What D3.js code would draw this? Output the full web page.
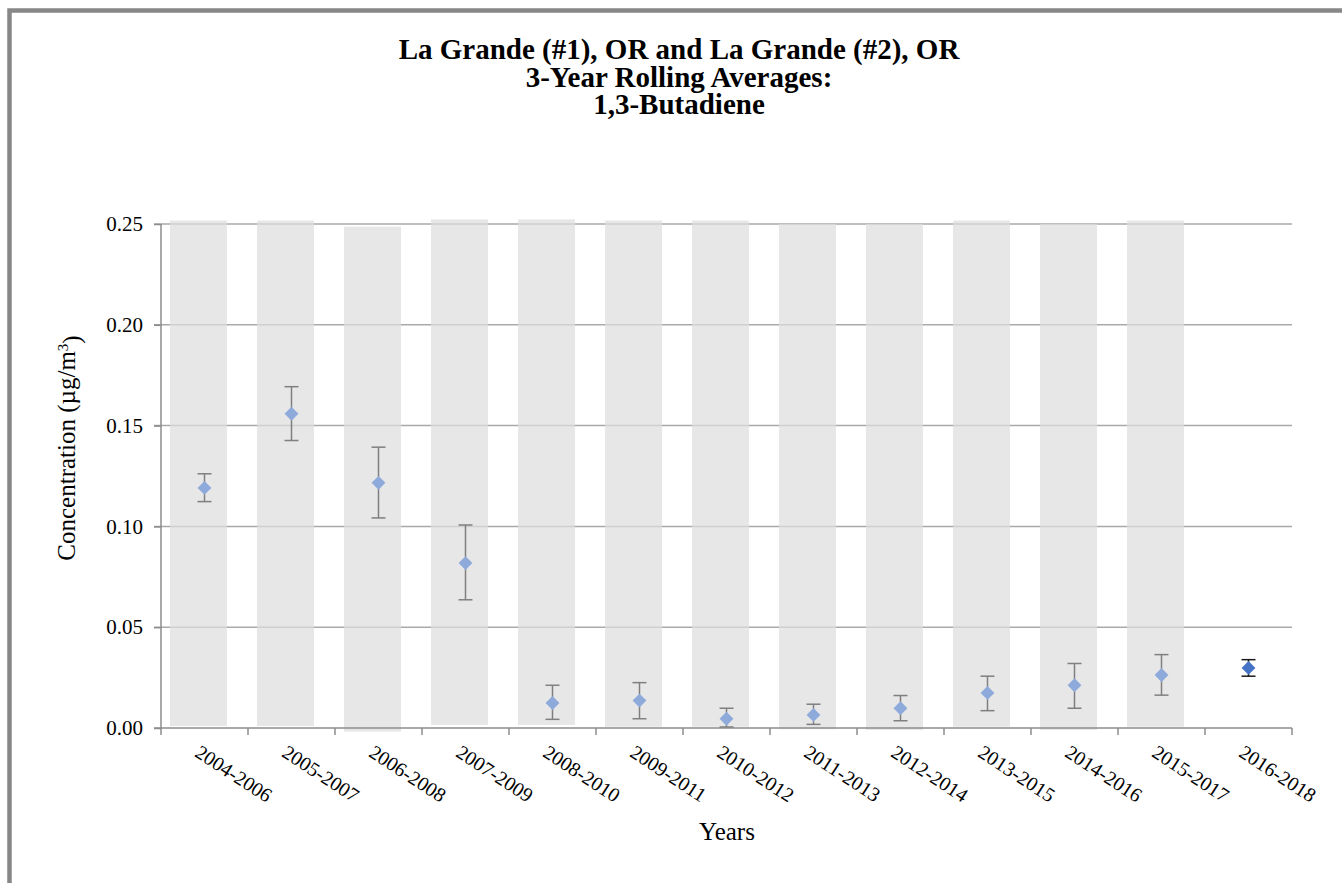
<!DOCTYPE html>
<html>
<head>
<meta charset="utf-8">
<script src="https://cdn.jsdelivr.net/npm/d3@7"></script>
<style>
  html, body { margin: 0; padding: 0; background: #fff; }
  svg { display: block; }
</style>
</head>
<body>
<svg id="chart" width="1342" height="883"></svg>
<script>
// Rolling three-year periods
const periods = ["2004-2006", "2005-2007", "2006-2008", "2007-2009", "2008-2010", "2009-2011",
  "2010-2012", "2011-2013", "2012-2014", "2013-2015", "2014-2016", "2015-2017", "2016-2018"];

// 3-year rolling average concentration (µg/m³) with confidence interval bounds
const means = [0.1191, 0.1559, 0.1216, 0.0818, 0.0124, 0.0136, 0.0046, 0.0065, 0.0098, 0.0174, 0.0212, 0.0263, 0.0298];
const upper = [0.1261, 0.1693, 0.1393, 0.1007, 0.0212, 0.0225, 0.0098, 0.0118, 0.0161, 0.0257, 0.0320, 0.0364, 0.0339];
const lower = [0.1123, 0.1426, 0.1042, 0.0636, 0.0043, 0.0046, 0.0005, 0.0018, 0.0036, 0.0086, 0.0098, 0.0163, 0.0257];

// Periods drawn with the lighter marker (combined-site averages); last period from a single site
const combined = [true, true, true, true, true, true, true, true, true, true, true, true, false];

// Shaded background columns (data units, top and bottom) for the combined periods
const shadeTop    = [0.2517, 0.2517, 0.2487, 0.2523, 0.2523, 0.2517, 0.2517, 0.2500, 0.2500, 0.2517, 0.2500, 0.2517];
const shadeBottom = [0.0010, 0.0010, -0.0018, 0.0015, 0.0015, 0.0006, 0.0006, -0.0006, -0.0010, 0.0006, -0.0010, 0.0006];

const yTicks = [0, 0.05, 0.10, 0.15, 0.20, 0.25];

const titleLines = ["La Grande (#1), OR and La Grande (#2), OR", "3-Year Rolling Averages:", "1,3-Butadiene"];

const SERIF = "'Liberation Serif', 'Times New Roman', Times, serif";

const svg = d3.select("#chart");

// outer frame
svg.append("rect")
  .attr("x", 9.5).attr("y", 10.5)
  .attr("width", 1360).attr("height", 900)
  .attr("fill", "none").attr("stroke", "#878787").attr("stroke-width", 4.5);

const plot = { left: 161, right: 1292, top: 224, bottom: 728 };

const x = d3.scaleBand().domain(periods).range([plot.left, plot.right]).padding(0);
const y = d3.scaleLinear().domain([0, 0.25]).range([plot.bottom, plot.top]);

// gridlines
svg.append("g").selectAll("line").data(yTicks.filter(t => t > 0)).join("line")
  .attr("x1", plot.left - 7).attr("x2", plot.right)
  .attr("y1", d => y(d)).attr("y2", d => y(d))
  .attr("stroke", "#a9a9a9").attr("stroke-width", 1.5);

// shaded columns
const shadeW = x.bandwidth() * 0.655;
svg.append("g").selectAll("rect").data(shadeTop).join("rect")
  .attr("x", (d, i) => x(periods[i]) + x.bandwidth() / 2 - shadeW / 2 - 6)
  .attr("y", (d, i) => y(d))
  .attr("width", shadeW)
  .attr("height", (d, i) => y(shadeBottom[i]) - y(d))
  .attr("fill", "#dedede").attr("fill-opacity", 0.72);

// y axis
const yAxis = svg.append("g").attr("transform", `translate(${plot.left},0)`)
  .call(d3.axisLeft(y).tickValues(yTicks).tickFormat(d3.format(".2f")).tickSize(7).tickPadding(11));
yAxis.select(".domain").attr("stroke", "#8c8c8c").attr("stroke-width", 1.5)
  .attr("d", `M0,${plot.top}V${plot.bottom}`);
yAxis.selectAll(".tick line").attr("stroke", "#8c8c8c").attr("stroke-width", 1.5);
yAxis.selectAll(".tick text")
  .style("font-family", SERIF)
  .style("font-size", "21px").attr("fill", "#000");

// x axis line with ticks at category boundaries
const xg = svg.append("g");
xg.append("line")
  .attr("x1", plot.left - 7).attr("x2", plot.right)
  .attr("y1", plot.bottom).attr("y2", plot.bottom)
  .attr("stroke", "#8c8c8c").attr("stroke-width", 1.5);
const bounds = periods.map(p => x(p)).concat([x(periods[periods.length - 1]) + x.bandwidth()]);
xg.selectAll("line.tk").data(bounds).join("line").attr("class", "tk")
  .attr("x1", d => d).attr("x2", d => d)
  .attr("y1", plot.bottom).attr("y2", plot.bottom + 7)
  .attr("stroke", "#8c8c8c").attr("stroke-width", 1.5);

// rotated category labels
xg.selectAll("text").data(periods).join("text")
  .attr("transform", d => `translate(${x(d) + x.bandwidth() / 2 - 7},${plot.bottom + 22}) rotate(33)`)
  .attr("text-anchor", "start")
  .attr("dy", "0.35em")
  .style("font-family", SERIF)
  .style("font-size", "20px")
  .text(d => d);

// error bars
const eb = svg.append("g");
const capHalf = 7;
periods.forEach((p, i) => {
  const cx = x(p) + x.bandwidth() / 2;
  const col = combined[i] ? "#7f7f7f" : "#1a1a1a";
  const g = eb.append("g").attr("stroke", col).attr("stroke-width", 1.5);
  g.append("line").attr("x1", cx).attr("x2", cx).attr("y1", y(upper[i])).attr("y2", y(lower[i]));
  g.append("line").attr("x1", cx - capHalf).attr("x2", cx + capHalf).attr("y1", y(upper[i])).attr("y2", y(upper[i]));
  g.append("line").attr("x1", cx - capHalf).attr("x2", cx + capHalf).attr("y1", y(lower[i])).attr("y2", y(lower[i]));
});

// diamond markers
const diamond = d3.symbol(d3.symbolSquare, 96);
svg.append("g").selectAll("path").data(means).join("path")
  .attr("d", diamond)
  .attr("transform", (d, i) => `translate(${x(periods[i]) + x.bandwidth() / 2},${y(d)}) rotate(45)`)
  .attr("fill", (d, i) => combined[i] ? "#8eaadb" : "#4472c4");

// titles
svg.append("g").selectAll("text").data(titleLines).join("text")
  .attr("x", 679)
  .attr("y", (d, i) => 59 + i * 27.5)
  .attr("text-anchor", "middle")
  .style("font-family", SERIF)
  .style("font-size", "29px").style("font-weight", "bold")
  .attr("fill", "#000")
  .text(d => d);

// axis titles
const yt = svg.append("text")
  .attr("transform", "translate(75,448) rotate(-90)")
  .attr("text-anchor", "middle")
  .style("font-family", SERIF)
  .style("font-size", "25px");
yt.append("tspan").text("Concentration (µg/m");
yt.append("tspan").attr("dy", "-0.45em").style("font-size", "15px").text("3");
yt.append("tspan").attr("dy", "0.45em").text(")");

svg.append("text")
  .attr("x", 727).attr("y", 840)
  .attr("text-anchor", "middle")
  .style("font-family", SERIF)
  .style("font-size", "25px")
  .text("Years");
</script>
</body>
</html>
